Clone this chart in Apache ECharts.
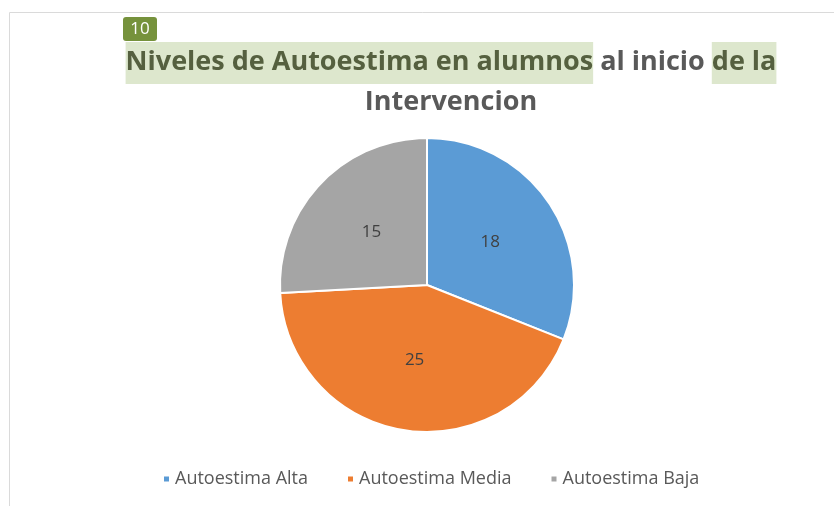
<!DOCTYPE html>
<html>
<head>
<meta charset="utf-8">
<script src="https://cdn.jsdelivr.net/npm/echarts@6/dist/echarts.min.js"></script>
<style>
  html, body { margin: 0; padding: 0; background: #fff; }
  #main { width: 834px; height: 506px; }
</style>
</head>
<body>
<div id="main"></div>
<script>
// datos del grafico
var categorias = ['Autoestima Alta', 'Autoestima Media', 'Autoestima Baja']
var valores = [18, 25, 15]
var colores = ['#5b9bd5', '#ed7d31', '#a5a5a5']

var chart = echarts.init(document.getElementById('main'))

var option = {
  backgroundColor: '#fff',
  animation: false,
  graphic: [
    // marco del grafico
    {
      type: 'rect',
      shape: { x: 9.5, y: 12.5, width: 900, height: 600 },
      style: { fill: 'none', stroke: '#dadada', lineWidth: 1 },
      silent: true
    },
    // etiqueta verde "10"
    {
      type: 'rect',
      shape: { x: 123, y: 17, width: 34, height: 24, r: 3 },
      style: { fill: '#76923c' }
    },
    {
      type: 'text',
      style: {
        x: 140, y: 29, text: '10', align: 'center', verticalAlign: 'middle',
        fill: '#fff', font: '17px "Open Sans"'
      }
    },
    // titulo con resaltado
    {
      type: 'text',
      style: {
        x: 451, y: 42,
        align: 'center', verticalAlign: 'top',
        text: '{h|Niveles de Autoestima en alumnos}{n| al inicio }{h|de la}\n{m|Intervencion}',
        font: 'bold 27px "Open Sans"',
        rich: {
          h: { fill: '#55603f', backgroundColor: '#dde7cd', padding: [7, 0, 8, 0], font: 'bold 27px "Open Sans"' },
          n: { fill: '#595959', padding: [7, 0, 8, 0], font: 'bold 27px "Open Sans"' },
          m: { fill: '#595959', padding: [5, 0, 0, 0], font: 'bold 27px "Open Sans"' }
        }
      }
    }
  ],
  legend: {
    data: categorias,
    bottom: 13,
    left: 157,
    icon: 'rect',
    itemWidth: 7,
    itemHeight: 7,
    itemGap: 38,
    textStyle: { color: '#595959', fontSize: 18, fontFamily: 'Open Sans' }
  },
  series: [{
    type: 'pie',
    center: [427, 285],
    radius: 147,
    startAngle: 90,
    clockwise: true,
    label: {
      show: true,
      position: 'inside',
      formatter: '{c}',
      color: '#404040',
      fontSize: 17,
      fontFamily: 'Open Sans'
    },
    labelLine: { show: false },
    itemStyle: { borderColor: '#fff', borderWidth: 2 },
    emphasis: { disabled: true },
    data: categorias.map(function (n, i) {
      return { name: n, value: valores[i], itemStyle: { color: colores[i] } }
    })
  }]
}

chart.setOption(option)
</script>
</body>
</html>
